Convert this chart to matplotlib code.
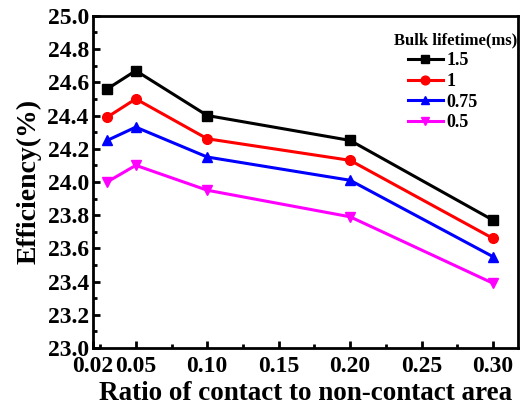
import matplotlib
matplotlib.use("Agg")
from matplotlib import pyplot as plt
from matplotlib.ticker import MultipleLocator

ratio = [0.03, 0.05, 0.10, 0.20, 0.30]
lifetimes = ["1.5", "1", "0.75", "0.5"]
eff_15 = [24.56, 24.67, 24.40, 24.25, 23.77]
eff_1 = [24.39, 24.50, 24.26, 24.13, 23.66]
eff_075 = [24.25, 24.33, 24.15, 24.01, 23.55]
eff_05 = [24.00, 24.10, 23.95, 23.79, 23.39]
xticks = [0.02, 0.05, 0.10, 0.15, 0.20, 0.25, 0.30]
xtick_labels = ["0.02", "0.05", "0.10", "0.15", "0.20", "0.25", "0.30"]

plt.rcParams["font.family"] = ["Liberation Serif", "DejaVu Serif"]
plt.rcParams["font.weight"] = "bold"

fig = plt.figure(figsize=(5.28, 4.07), dpi=100)
ax = fig.add_axes([0.176, 0.145, 0.805, 0.816])

series = [eff_15, eff_1, eff_075, eff_05]
colors = ["black", "red", "blue", "magenta"]
markers = ["s", "o", "^", "v"]
for vals, c, m, lab in zip(series, colors, markers, lifetimes):
    ax.plot(ratio, vals, color=c, marker=m, markersize=7, linewidth=2.2, label=lab)

ax.set_xlim(0.02, 0.3175)
ax.set_ylim(23.0, 25.0)
ax.set_xticks(xticks)
ax.set_xticklabels(xtick_labels)
ax.xaxis.set_minor_locator(MultipleLocator(0.025))
ax.yaxis.set_major_locator(MultipleLocator(0.2))
ax.yaxis.set_minor_locator(MultipleLocator(0.1))
ax.tick_params(which="both", direction="in", width=2, labelsize=17)
ax.tick_params(axis="x", pad=6)
ax.tick_params(axis="y", pad=3)
ax.tick_params(which="major", length=5)
ax.tick_params(which="minor", length=3)
for lbl in ax.get_xticklabels() + ax.get_yticklabels():
    lbl.set_fontweight("bold")
for sp in ax.spines.values():
    sp.set_linewidth(2)

ax.set_xlabel("Ratio of contact to non-contact area", fontsize=19.5,
              fontweight="bold", labelpad=3)
ax.set_ylabel("Efficiency(%)", fontsize=20, fontweight="bold", labelpad=4)

# legend title sits right-aligned above the entries
ax.text(0.998, 0.925, "Bulk lifetime(ms)", transform=ax.transAxes,
        ha="right", va="center", fontsize=12, fontweight="bold")
ax.legend(loc="upper left", bbox_to_anchor=(0.741, 0.89), frameon=False,
          prop={"weight": "bold", "size": 13}, handlelength=1.95,
          handletextpad=0.17, labelspacing=0.2, borderpad=0,
          borderaxespad=0, markerscale=0.9)

fig.savefig("out.png", dpi=100)
